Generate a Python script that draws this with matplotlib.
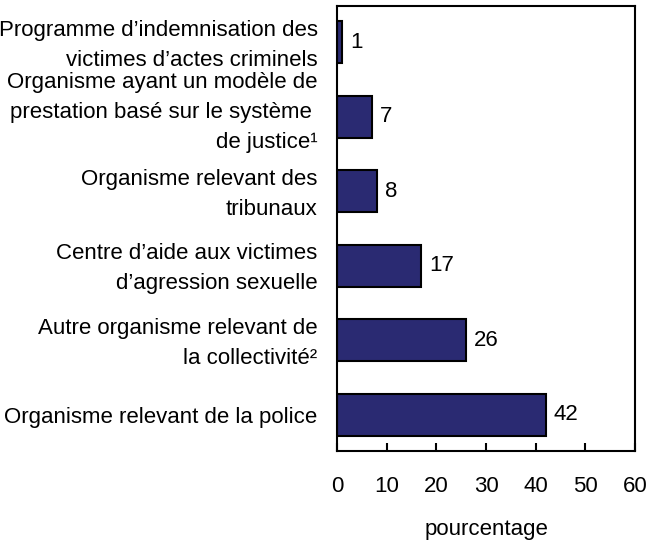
import matplotlib
matplotlib.use("Agg")
import matplotlib.pyplot as plt

plt.rcParams['font.family'] = ['Liberation Sans', 'DejaVu Sans']

# Data (bottom to top)
categories = [
    "Organisme relevant de la police",
    "Autre organisme relevant de\nla collectivité²",
    "Centre d’aide aux victimes\nd’agression sexuelle",
    "Organisme relevant des\ntribunaux",
    "Organisme ayant un modèle de\nprestation basé sur le système \nde justice¹",
    "Programme d’indemnisation des\nvictimes d’actes criminels",
]
values = [42, 26, 17, 8, 7, 1]
xticks = [0, 10, 20, 30, 40, 50, 60]

fs = 16

fig = plt.figure(figsize=(6.57, 5.4), dpi=100)
ax = fig.add_axes([337 / 657, 1 - 451 / 540, (635 - 337) / 657, (451 - 6) / 540])

pos = list(range(len(values)))
ax.barh(pos, values, height=0.565, color='#2a2a72',
        edgecolor='black', linewidth=1.5)

for p, v in zip(pos, values):
    ax.text(v + 1.6, p, str(v), va='center', ha='left', fontsize=fs)

# category labels, the three-line one sits a bit higher
for p, c in zip(pos, categories):
    dy = 3.3 if c.count("\n") == 2 else -2.2
    ax.annotate(c, xy=(0, p), xytext=(-14, dy), textcoords='offset points',
                ha='right', va='center', fontsize=fs, linespacing=1.55,
                multialignment='right', annotation_clip=False)

ax.set_xlim(0, 60)
ax.set_ylim(-0.49, 5.49)
ax.set_xticks(xticks)
ax.set_xticklabels([str(t) for t in xticks], fontsize=fs)
ax.set_yticks([])
ax.tick_params(axis='x', direction='in', length=6, width=1.5, pad=18)

fig.text((337 + 635) / 2 / 657, 1 - 530 / 540, 'pourcentage',
         ha='center', va='center', fontsize=fs)

for s in ax.spines.values():
    s.set_linewidth(1.5)

fig.savefig('out.png', dpi=100)
